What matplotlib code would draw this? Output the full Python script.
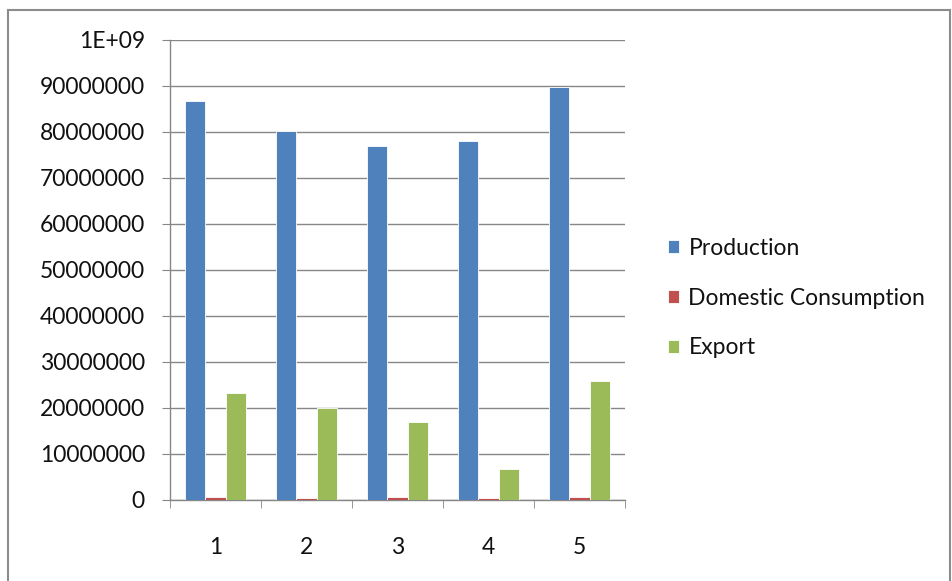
import matplotlib.pyplot as plt
import numpy as np
from matplotlib.lines import Line2D

categories = ["1", "2", "3", "4", "5"]
production = [868000000, 802000000, 769000000, 780000000, 897000000]
domestic = [7000000, 4000000, 7000000, 4000000, 7000000]
export = [232000000, 201000000, 169000000, 68000000, 258000000]
series_names = ["Production", "Domestic Consumption", "Export"]
colors = ["#4F81BD", "#C0504D", "#9BBB59"]
ytick_values = [0, 1e8, 2e8, 3e8, 4e8, 5e8, 6e8, 7e8, 8e8, 9e8, 1e9]
ytick_labels = ["0", "10000000", "20000000", "30000000", "40000000", "50000000",
                "60000000", "70000000", "80000000", "90000000", "1E+09"]

plt.rcParams['font.family'] = ['Lato', 'DejaVu Sans']

fig = plt.figure(figsize=(9.53, 5.81), dpi=100)
ax = fig.add_axes([170 / 953, 1 - 500 / 581, 455 / 953, 460 / 581])

x = np.arange(len(categories))
w = 0.22
for i, (vals, name) in enumerate(zip([production, domestic, export], series_names)):
    ax.bar(x + (i - 1) * w, vals, w, color=colors[i], label=name,
           edgecolor='white', linewidth=0.6, zorder=3)

ax.set_xlim(-0.5, len(categories) - 0.5)
ax.set_ylim(0, 1e9)
ax.set_yticks(ytick_values)
ax.set_yticklabels(ytick_labels)
ax.set_xticks(x)
ax.set_xticklabels(categories)
ax.set_xticks(np.arange(-0.5, len(categories)), minor=True)

ax.grid(axis='y', color='#878787', linewidth=1, zorder=0)
for s in ['top', 'right']:
    ax.spines[s].set_visible(False)
for s in ['left', 'bottom']:
    ax.spines[s].set_color('#878787')
    ax.spines[s].set_linewidth(1)

fs = 16.5
ax.tick_params(axis='y', length=6, color='#878787', pad=12, labelsize=fs, labelcolor='#111111')
ax.tick_params(axis='x', which='major', length=0, pad=27, labelsize=fs, labelcolor='#111111')
ax.tick_params(axis='x', which='minor', length=6, color='#878787')

ax.legend(loc='center left', bbox_to_anchor=(1.094, 0.439), frameon=False, fontsize=fs,
          borderpad=0, borderaxespad=0, labelcolor='#111111',
          handlelength=0.5, handleheight=0.5, handletextpad=0.4, labelspacing=1.25)

# outer chart border
bc = '#8c8c8c'
fig.add_artist(Line2D([8 / 953, 950 / 953], [1 - 10 / 581, 1 - 10 / 581], color=bc, lw=1.5))
fig.add_artist(Line2D([8 / 953, 8 / 953], [0, 1 - 10 / 581], color=bc, lw=1.5))
fig.add_artist(Line2D([950 / 953, 950 / 953], [0, 1 - 10 / 581], color=bc, lw=1.5))

fig.savefig('out.png', dpi=100)
